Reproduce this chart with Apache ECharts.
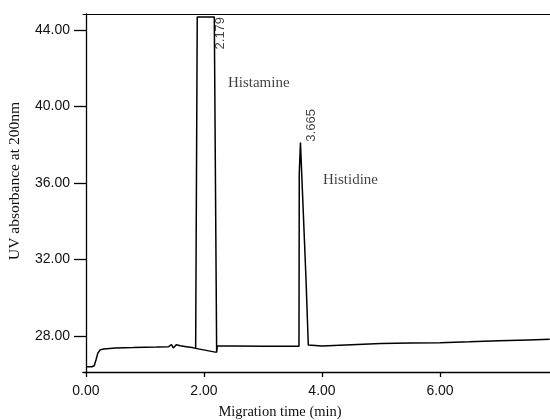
<!DOCTYPE html>
<html>
<head>
<meta charset="utf-8">
<script src="https://cdn.jsdelivr.net/npm/echarts@6/dist/echarts.min.js"></script>
<style>html,body{margin:0;padding:0;background:#fff}#chart{width:550px;height:420px}</style>
</head>
<body>
<div id="chart"></div>
<script>
// ---- data ----
var traceTime = [0.00, 0.10, 0.14, 0.17, 0.20, 0.24, 0.30, 0.50, 0.80, 1.00, 1.20, 1.40, 1.45, 1.48, 1.53, 1.60, 1.70, 1.80, 1.859, 1.886, 2.175, 2.215, 2.225, 2.50, 3.00, 3.50, 3.61, 3.615, 3.635, 3.729, 3.768, 3.80, 4.00, 4.50, 5.00, 5.50, 6.00, 6.50, 7.00, 7.50, 7.86];
var traceAbs  = [26.40, 26.40, 26.45, 26.75, 27.10, 27.28, 27.33, 27.38, 27.40, 27.42, 27.43, 27.45, 27.55, 27.38, 27.55, 27.50, 27.45, 27.40, 27.36, 44.68, 44.68, 27.15, 27.48, 27.48, 27.47, 27.47, 27.47, 36.50, 38.11, 30.98, 27.53, 27.47, 27.48, 27.55, 27.62, 27.64, 27.66, 27.70, 27.76, 27.80, 27.83];
var baseTime = [1.859, 2.215];
var baseAbs  = [27.36, 27.15];
var peakTimes = [2.179, 3.665];
var peakTops  = [44.68, 38.11];
var compounds = ['Histamine', 'Histidine'];
var xTicks = [0, 2, 4, 6];
var yTicks = [28, 32, 36, 40, 44];

function zip(a, b) { return a.map(function (v, i) { return [v, b[i]]; }); }

var sans = '"Liberation Sans", Arial, sans-serif';
var serif = '"Liberation Serif", "Times New Roman", serif';

var chart = echarts.init(document.getElementById('chart'), null, {renderer: 'canvas'});
chart.setOption({
  animation: false,
  backgroundColor: '#fff',
  grid: {left: 83, top: 14, right: 0, bottom: 48, containLabel: false},
  xAxis: [{
    type: 'value', min: -0.05, max: 7.864, position: 'bottom',
    axisLine: {show: true, lineStyle: {color: '#000', width: 1.3}},
    axisTick: {show: true, length: 5, customValues: xTicks, lineStyle: {color: '#000', width: 1.3}},
    axisLabel: {show: true, customValues: xTicks, margin: 12, color: '#111', fontFamily: sans, fontSize: 14,
      formatter: function (v) { return v.toFixed(2); }},
    splitLine: {show: false}
  }, {
    type: 'value', min: -0.05, max: 7.864, position: 'top',
    axisLine: {show: true, lineStyle: {color: '#000', width: 1.2}},
    axisTick: {show: false}, axisLabel: {show: false}, splitLine: {show: false}
  }],
  yAxis: {
    type: 'value', min: 26.125, max: 44.833,
    axisLine: {show: true, lineStyle: {color: '#000', width: 1.3}},
    axisTick: {show: true, length: 12, customValues: yTicks, lineStyle: {color: '#000', width: 1.3}},
    axisLabel: {show: true, customValues: yTicks, margin: 13, color: '#111', fontFamily: sans, fontSize: 14,
      formatter: function (v) { return v.toFixed(2); }},
    splitLine: {show: false}
  },
  series: [{
    type: 'line', name: 'trace', data: zip(traceTime, traceAbs),
    showSymbol: false, smooth: false,
    lineStyle: {color: '#000', width: 1.5}
  }, {
    type: 'line', name: 'baseline', data: zip(baseTime, baseAbs),
    showSymbol: false, lineStyle: {color: '#000', width: 1.5}
  }, {
    type: 'scatter', name: 'rt', symbolSize: 0,
    data: [
      {value: [peakTimes[0], peakTops[0]], label: {align: 'right', offset: [0, 5.5]}},
      {value: [peakTimes[1], peakTops[1]], label: {align: 'left', offset: [1, 9.5]}}
    ],
    label: {show: true, position: 'inside', rotate: 90, verticalAlign: 'middle',
      color: '#111', fontFamily: sans, fontSize: 13,
      formatter: function (p) { return p.value[0].toFixed(3); }}
  }, {
    type: 'scatter', name: 'names', symbolSize: 0,
    data: [
      {value: [peakTimes[0], peakTops[0]], name: compounds[0], label: {offset: [13.4, 66]}},
      {value: [peakTimes[1], peakTops[1]], name: compounds[1], label: {offset: [20.8, 37]}}
    ],
    label: {show: true, position: 'inside', align: 'left', verticalAlign: 'middle',
      color: '#111', fontFamily: serif, fontSize: 15,
      formatter: function (p) { return p.name; }}
  }],
  graphic: [{
    type: 'text', x: 280, y: 412,
    style: {text: 'Migration time (min)', font: '14.5px ' + serif, fill: '#111', align: 'center', verticalAlign: 'middle'}
  }, {
    type: 'text', x: 15, y: 181, rotation: Math.PI / 2,
    style: {text: 'UV absorbance at 200nm', font: '15.5px ' + serif, fill: '#111', align: 'center', verticalAlign: 'middle'}
  }]
});
</script>
</body>
</html>
